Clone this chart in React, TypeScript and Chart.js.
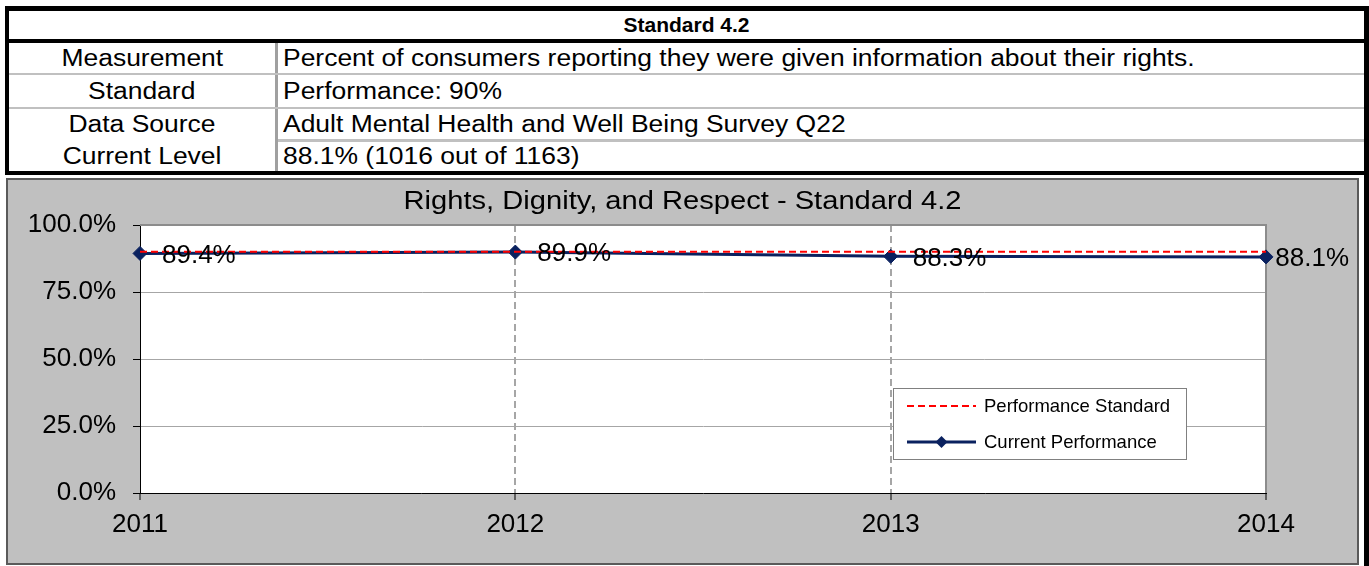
import React, { useEffect, useRef } from "react";
import { Chart, registerables } from "chart.js";

Chart.register(...registerables);

// ---------- data ----------
const TABLE_TITLE = "Standard 4.2";
const ROW_LABELS = ["Measurement", "Standard", "Data Source", "Current Level"];
const ROW_VALUES = [
  "Percent of consumers reporting they were given information about their rights.",
  "Performance: 90%",
  "Adult Mental Health and Well Being Survey Q22",
  "88.1% (1016 out of 1163)",
];
const CHART_TITLE = "Rights, Dignity, and Respect - Standard 4.2";
const YEARS = ["2011", "2012", "2013", "2014"];
const STANDARD_VALUES = [0.9, 0.9, 0.9, 0.9];
const CURRENT_VALUES = [0.894, 0.899, 0.883, 0.881];
const SERIES_NAMES = ["Performance Standard", "Current Performance"];
const Y_TICKS = [0, 0.25, 0.5, 0.75, 1];

const FONT = "'Liberation Sans', Arial, Helvetica, sans-serif";
const GRAY_BG = "#c0c0c0";
const NAVY = "#0a215f";
const RED = "#ff0000";

const pct = (v: number) => (v * 100).toFixed(1) + "%";

function stretchedText(ctx: CanvasRenderingContext2D, txt: string, x: number, y: number, sx: number) {
  ctx.save();
  ctx.translate(x, y);
  ctx.scale(sx, 1);
  ctx.fillText(txt, 0, 0);
  ctx.restore();
}

// ---------- chart plugins ----------
const decorPlugin = {
  id: "decor",
  beforeDraw(chart: any) {
    const { ctx, chartArea: a } = chart;
    ctx.save();
    ctx.fillStyle = "#ffffff";
    ctx.fillRect(a.left, a.top, a.right - a.left, a.bottom - a.top);
    ctx.restore();
  },
  beforeDatasetsDraw(chart: any) {
    const { ctx, chartArea: a } = chart;
    ctx.save();
    ctx.strokeStyle = "#8c8c8c";
    ctx.lineWidth = 2;
    ctx.beginPath();
    ctx.moveTo(a.left, a.top);
    ctx.lineTo(a.right, a.top);
    ctx.lineTo(a.right, a.bottom);
    ctx.stroke();
    ctx.restore();
  },
  afterDatasetsDraw(chart: any) {
    const { ctx, chartArea: a, width } = chart;
    ctx.save();
    // data labels for current performance
    const meta = chart.getDatasetMeta(1);
    const ds = chart.data.datasets[1];
    ctx.font = `26px ${FONT}`;
    ctx.fillStyle = "#000";
    ctx.textAlign = "left";
    ctx.textBaseline = "middle";
    meta.data.forEach((pt: any, i: number) => {
      const txt = pct(ds.data[i]);
      const tw = ctx.measureText(txt).width;
      const x = Math.min(pt.x + 22, width - 10 - tw);
      ctx.fillText(txt, x, pt.y + 2);
    });

    // title
    ctx.font = `26px ${FONT}`;
    ctx.textAlign = "center";
    stretchedText(ctx, CHART_TITLE, width / 2, 24, 1.12);

    // legend
    const bw = 293, bh = 71;
    const bx = a.right - 80 - bw;
    const by = a.bottom - 34 - bh;
    ctx.fillStyle = "#fff";
    ctx.fillRect(bx, by, bw, bh);
    ctx.strokeStyle = "#808080";
    ctx.lineWidth = 1;
    ctx.strokeRect(bx + 0.5, by + 0.5, bw, bh);
    chart.data.datasets.forEach((d: any, i: number) => {
      const y = by + 18 + i * 36;
      ctx.save();
      ctx.strokeStyle = d.borderColor;
      ctx.lineWidth = d.borderWidth;
      ctx.setLineDash(d.borderDash || []);
      ctx.beginPath();
      ctx.moveTo(bx + 14, y);
      ctx.lineTo(bx + 83, y);
      ctx.stroke();
      ctx.restore();
      if (d.pointRadius > 0) {
        ctx.fillStyle = d.pointBackgroundColor;
        ctx.beginPath();
        const cx = bx + 48.5, r = 6;
        ctx.moveTo(cx - r, y);
        ctx.lineTo(cx, y - r);
        ctx.lineTo(cx + r, y);
        ctx.lineTo(cx, y + r);
        ctx.closePath();
        ctx.fill();
      }
      ctx.fillStyle = "#000";
      ctx.font = `18.5px ${FONT}`;
      ctx.textAlign = "left";
      ctx.textBaseline = "middle";
      ctx.fillText(d.label, bx + 91, y + 1);
    });
    ctx.restore();
  },
};

function ChartBox() {
  const ref = useRef<HTMLCanvasElement | null>(null);
  useEffect(() => {
    if (!ref.current) return;
    Chart.defaults.font.family = FONT;
    const chart = new Chart(ref.current, {
      type: "line",
      data: {
        labels: YEARS,
        datasets: [
          {
            label: SERIES_NAMES[0],
            data: STANDARD_VALUES,
            borderColor: RED,
            backgroundColor: RED,
            borderWidth: 2,
            borderDash: [7, 4],
            pointRadius: 0,
            pointHoverRadius: 0,
            fill: false,
            tension: 0,
          },
          {
            label: SERIES_NAMES[1],
            data: CURRENT_VALUES,
            borderColor: NAVY,
            backgroundColor: NAVY,
            borderWidth: 3,
            pointStyle: "rectRot",
            pointRadius: 7,
            pointBorderWidth: 1,
            pointBackgroundColor: NAVY,
            pointBorderColor: NAVY,
            fill: false,
            tension: 0,
          },
        ],
      },
      options: {
        animation: false,
        responsive: false,
        maintainAspectRatio: false,
        events: [],
        layout: { padding: { top: 47, right: 93, left: 0, bottom: 0 } },
        plugins: {
          legend: { display: false },
          title: { display: false },
          tooltip: { enabled: false },
        },
        scales: {
          x: {
            type: "category",
            offset: false,
            afterFit: (s: any) => {
              s.height = 72;
            },
            grid: {
              color: (c: any) => (c.index === 1 || c.index === 2 ? "#a6a6a6" : "rgba(0,0,0,0)"),
              lineWidth: 2,
              tickColor: "#000",
              tickWidth: 1,
              tickLength: 7,
            },
            border: { display: true, color: "#000", width: 1, dash: [7, 4] },
            ticks: {
              color: "#000",
              font: { size: 26 },
              padding: 9,
              maxRotation: 0,
              autoSkip: false,
            },
          },
          y: {
            type: "linear",
            min: 0,
            max: 1,
            afterFit: (s: any) => {
              s.width = 134;
            },
            afterBuildTicks: (s: any) => {
              s.ticks = Y_TICKS.map((v) => ({ value: v }));
            },
            grid: {
              color: (c: any) => (c.index === 0 ? "rgba(0,0,0,0)" : c.index === 4 ? "#8c8c8c" : "#a6a6a6"),
              lineWidth: 1,
              tickColor: "#000",
              tickWidth: 1,
              tickLength: 7,
            },
            border: { display: true, color: "#000", width: 1 },
            ticks: {
              color: "#000",
              font: { size: 26 },
              padding: 17,
              callback: (v: any) => pct(Number(v)),
            },
          },
        },
      },
      plugins: [decorPlugin],
    });
    return () => chart.destroy();
  }, []);
  return (
    <canvas
      ref={ref}
      width={1353}
      height={387}
      style={{ position: "absolute", left: 6, top: 178, width: 1353, height: 387 }}
    />
  );
}

const cellText = (origin: string): React.CSSProperties => ({
  display: "inline-block",
  transform: "scaleX(1.15)",
  transformOrigin: origin,
});

export default function App() {
  useEffect(() => {
    document.body.style.margin = "0";
  }, []);

  const rowTops = [43, 75, 109, 142];
  const rowHeights = [30, 32, 30, 29];

  return (
    <div
      style={{
        position: "relative",
        width: 1369,
        height: 566,
        background: "#fff",
        fontFamily: FONT,
        overflow: "hidden",
      }}
    >
      {/* table outer border */}
      <div
        style={{
          position: "absolute",
          left: 5,
          top: 6,
          width: 1364,
          height: 169,
          boxSizing: "border-box",
          borderStyle: "solid",
          borderColor: "#000",
          borderWidth: "5px 5px 4px 4px",
        }}
      />
      {/* title row */}
      <div
        style={{
          position: "absolute",
          left: 9,
          top: 11,
          width: 1355,
          height: 28,
          lineHeight: "28px",
          textAlign: "center",
          fontWeight: "bold",
          fontSize: 21,
        }}
      >
        {TABLE_TITLE}
      </div>
      <div style={{ position: "absolute", left: 9, top: 39, width: 1355, height: 4, background: "#000" }} />
      {/* column divider */}
      <div style={{ position: "absolute", left: 275, top: 43, width: 3, height: 128, background: "#a0a0a0" }} />
      {/* row separators */}
      <div style={{ position: "absolute", left: 9, top: 73, width: 1355, height: 2, background: "#c0c0c0" }} />
      <div style={{ position: "absolute", left: 9, top: 107, width: 1355, height: 2, background: "#c0c0c0" }} />
      <div style={{ position: "absolute", left: 278, top: 139, width: 1086, height: 3, background: "#c0c0c0" }} />
      {ROW_LABELS.map((lab, i) => (
        <React.Fragment key={lab}>
          <div
            style={{
              position: "absolute",
              left: 9,
              top: rowTops[i],
              width: 266,
              height: rowHeights[i],
              lineHeight: rowHeights[i] + "px",
              textAlign: "center",
              fontSize: 23,
              whiteSpace: "nowrap",
            }}
          >
            <span style={cellText("center")}>{lab}</span>
          </div>
          <div
            style={{
              position: "absolute",
              left: 283,
              top: rowTops[i],
              height: rowHeights[i],
              lineHeight: rowHeights[i] + "px",
              fontSize: 23,
              whiteSpace: "nowrap",
            }}
          >
            <span style={cellText("left")}>{ROW_VALUES[i]}</span>
          </div>
        </React.Fragment>
      ))}
      {/* right thick border continuing down */}
      <div style={{ position: "absolute", left: 1364, top: 175, width: 5, height: 391, background: "#000" }} />
      {/* chart box */}
      <div
        style={{
          position: "absolute",
          left: 6,
          top: 178,
          width: 1353,
          height: 387,
          boxSizing: "border-box",
          background: GRAY_BG,
          border: "2px solid #5a5a5a",
        }}
      />
      <ChartBox />
    </div>
  );
}
